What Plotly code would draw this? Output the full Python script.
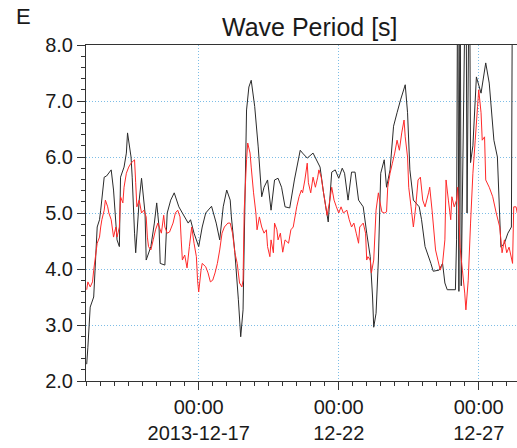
import pandas as pd
import plotly.graph_objects as go

# Hours since 2013-12-13 00:00 and wave period [s]
black_hours = [0, 1, 3, 6, 9, 11, 12, 15, 17, 21,
               23, 26, 28, 29, 32, 34, 35, 38, 39, 41,
               42, 45, 47, 50, 51, 55, 58, 60, 62, 63,
               67, 69, 72, 75, 79, 82, 87, 89, 92, 96,
               99, 102, 107, 111, 114, 117, 120, 123, 124, 127,
               130, 132, 134, 137, 139, 141, 144, 147, 150, 152,
               155, 158, 161, 164, 167, 170, 174, 178, 183, 185,
               189, 194, 200, 203, 207, 210, 213, 216, 219, 221,
               224, 227, 230, 233, 237, 240, 243, 245, 246, 248,
               250, 252, 255, 257, 260, 263, 266, 269, 273, 275,
               277, 280, 285, 287, 290, 295, 297, 302, 305, 307,
               309, 316, 317, 318, 319, 320, 321, 325, 326, 328,
               329, 331, 334, 338, 342, 345, 349, 352, 355, 358,
               361, 364, 365]
black_period = [2.3, 2.6, 3.32, 3.5, 4.75, 4.88, 5.05, 5.64, 5.66, 5.77,
                5.41, 4.52, 4.4, 5.64, 5.82, 6.07, 6.43, 6.0, 5.64, 4.64,
                4.29, 5.23, 5.62, 5.0, 4.16, 4.4, 4.82, 5.18, 4.75, 4.1,
                4.07, 5.0, 5.23, 5.36, 5.11, 5.0, 4.82, 4.88, 4.64, 4.4,
                4.75, 5.0, 5.12, 4.82, 4.52, 5.11, 5.41, 5.23, 4.93, 4.29,
                3.45, 2.79, 3.27, 6.84, 7.25, 7.37, 6.9, 6.18, 5.29, 5.46,
                5.59, 5.05, 5.59, 5.62, 5.46, 5.11, 5.09, 5.59, 6.12, 6.07,
                5.98, 6.07, 5.82, 5.36, 4.84, 5.73, 5.77, 5.62, 5.80, 5.71,
                5.23, 5.73, 5.73, 5.23, 5.11, 4.64, 4.22, 3.5, 2.96, 3.21,
                4.16, 5.71, 5.95, 5.46, 5.77, 6.55, 6.79, 7.02, 7.29, 6.79,
                5.77, 5.23, 5.11, 4.88, 4.4, 4.10, 3.96, 3.98, 4.1, 3.75,
                3.63, 3.63, 4.52, 10.0, 3.6, 10.0, 3.7, 10.0, 5.0, 10.0,
                5.9, 6.2, 7.43, 7.14, 7.68, 7.32, 6.3, 6.0, 4.39, 4.46,
                4.64, 4.75, 10.0]

red_hours = [0, 1, 3, 5, 6, 9, 11, 12, 13, 15,
             16, 18, 19, 21, 23, 25, 26, 28, 29, 31,
             32, 34, 36, 38, 41, 42, 43, 45, 47, 49,
             51, 52, 53, 55, 57, 59, 61, 64, 66, 67,
             69, 71, 74, 76, 78, 80, 81, 82, 84, 86,
             88, 90, 92, 94, 95, 96, 98, 99, 102, 104,
             106, 108, 110, 112, 114, 116, 118, 121, 123, 125,
             127, 129, 131, 133, 134, 135, 137, 138, 140, 141,
             143, 145, 146, 148, 150, 152, 154, 155, 157, 158,
             160, 161, 163, 164, 166, 168, 170, 173, 175, 177,
             180, 182, 184, 185, 187, 189, 190, 192, 194, 196,
             198, 199, 201, 203, 206, 208, 210, 212, 214, 216,
             218, 220, 223, 225, 227, 229, 231, 233, 234, 237,
             239, 240, 241, 243, 244, 246, 248, 250, 251, 253,
             255, 257, 258, 260, 262, 264, 266, 268, 270, 272,
             273, 275, 276, 278, 280, 282, 284, 286, 288, 290,
             293, 294, 296, 299, 301, 303, 305, 307, 308, 310,
             312, 313, 315, 317, 318, 320, 322, 324, 325, 327,
             329, 331, 333, 335, 336, 338, 339, 341, 342, 345,
             348, 351, 354, 356, 358, 360, 362, 365, 366, 368,
             369]
red_period = [3.63, 3.77, 3.68, 3.77, 3.98, 4.46, 4.57, 4.75, 4.88, 5.05,
              5.23, 5.11, 5.0, 4.88, 4.57, 4.75, 4.57, 4.75, 5.29, 5.18,
              5.46, 5.71, 5.82, 5.89, 5.95, 5.54, 5.11, 5.23, 5.0, 5.05,
              4.93, 4.57, 4.4, 4.34, 4.52, 4.7, 4.82, 4.64, 4.96, 4.75,
              4.64, 4.66, 4.82, 5.0, 5.05, 4.93, 4.52, 4.16, 4.25, 4.02,
              4.4, 4.75, 4.46, 4.22, 3.8, 3.59, 3.98, 4.1, 4.04, 3.93,
              3.77, 3.8, 3.93, 4.1, 4.34, 4.64, 4.75, 4.82, 4.82, 4.64,
              4.29, 4.1, 3.75, 3.68, 3.8, 5.05, 5.95, 6.25, 6.07, 5.82,
              5.36, 5.0, 4.7, 4.93, 4.75, 4.64, 4.7, 4.4, 4.22, 4.52,
              4.29, 4.82, 4.7, 4.52, 4.64, 4.3, 4.52, 4.46, 4.7, 4.75,
              5.11, 5.29, 5.41, 5.36, 5.59, 5.89, 5.54, 5.36, 5.64, 5.46,
              5.64, 5.77, 5.64, 5.36, 4.96, 5.18, 5.46, 5.23, 5.11, 5.0,
              5.11, 5.0, 5.05, 4.88, 4.75, 4.82, 4.64, 4.46, 4.75, 4.82,
              4.64, 4.16, 4.22, 4.16, 3.93, 4.16, 5.05, 5.36, 5.23, 5.02,
              5.0, 5.02, 5.46, 5.71, 5.89, 6.07, 6.3, 6.12, 6.43, 6.66,
              6.36, 6.0, 5.46, 5.11, 4.75, 5.11, 5.59, 5.64, 5.23, 5.11,
              5.36, 5.46, 5.05, 4.34, 4.16, 3.98, 4.1, 4.52, 5.59, 5.23,
              4.88, 5.29, 5.11, 5.23, 5.46, 4.39, 3.98, 3.57, 3.27, 3.8,
              4.82, 5.71, 6.3, 6.9, 7.2, 6.79, 6.3, 6.36, 5.59, 5.46,
              5.29, 5.0, 4.75, 4.29, 4.52, 4.29, 4.39, 4.1, 5.11, 5.11,
              5.0]

tick_dates = ["2013-12-17", "2013-12-22", "2013-12-27"]
tick_labels = ["00:00<br>2013-12-17", "00:00<br>12-22", "00:00<br>12-27"]

base = pd.Timestamp("2013-12-13 00:00")
black_t = base + pd.to_timedelta(black_hours, unit="h")
red_t = base + pd.to_timedelta(red_hours, unit="h")

FONT = "Liberation Sans, Arial, sans-serif"
TXT = "#1a1a1a"
AX = "#333333"
GRID = "#7dbde6"

fig = go.Figure()
fig.add_trace(go.Scatter(x=black_t, y=black_period, mode="lines",
                         line=dict(color="#2b2b2b", width=1, simplify=False),
                         showlegend=False))
fig.add_trace(go.Scatter(x=red_t, y=red_period, mode="lines",
                         line=dict(color="#ff2a2a", width=1, simplify=False),
                         showlegend=False))

x_start = base - pd.Timedelta(minutes=36)
x_end = base + pd.Timedelta(hours=368.8)

fig.update_layout(
    width=517, height=448,
    margin=dict(l=86, r=0, t=45, b=67),
    paper_bgcolor="white", plot_bgcolor="white",
    font=dict(family=FONT, color=TXT),
    xaxis=dict(
        type="date", range=[x_start, x_end],
        tickvals=tick_dates, ticktext=tick_labels,
        tickfont=dict(size=20, family=FONT, color=TXT),
        ticks="outside", ticklen=8, tickcolor=AX, tickwidth=1,
        showline=True, linecolor=AX, linewidth=1, mirror=True,
        showgrid=True, gridcolor=GRID, griddash="1px,2px", gridwidth=1,
        zeroline=False,
        minor=dict(dtick=12 * 3600 * 1000, tick0="2013-12-13", ticks="outside",
                   ticklen=4, tickcolor=AX, showgrid=False),
    ),
    yaxis=dict(
        range=[2, 8], dtick=1, tick0=2, tickformat=".1f",
        tickfont=dict(size=20, family=FONT, color=TXT),
        ticks="outside", ticklen=8, tickcolor=AX, tickwidth=1,
        showline=True, linecolor=AX, linewidth=1,
        showgrid=True, gridcolor=GRID, griddash="1px,2px", gridwidth=1,
        zeroline=False,
        minor=dict(dtick=0.2, ticks="outside", ticklen=4, tickcolor=AX,
                   showgrid=False),
    ),
    annotations=[
        dict(text="Wave Period [s]", x=0.52, y=1.0536, xref="paper", yref="paper",
             xanchor="center", yanchor="middle", showarrow=False,
             font=dict(size=25, family=FONT, color=TXT)),
        dict(text="E", x=-0.166, y=1.0863, xref="paper", yref="paper",
             xanchor="left", yanchor="middle", showarrow=False,
             font=dict(size=22, family=FONT, color=TXT)),
    ],
)

fig.write_html("out.html")
